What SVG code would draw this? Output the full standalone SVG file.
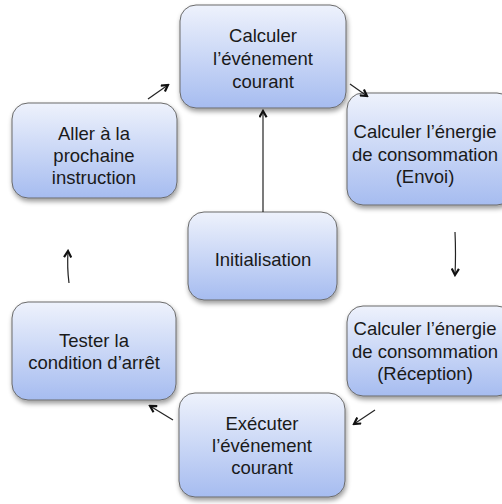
<svg xmlns="http://www.w3.org/2000/svg" width="502" height="504" viewBox="0 0 502 504">
<defs>
<linearGradient id="g" x1="0" y1="0" x2="0" y2="1">
<stop offset="0" stop-color="#eef2fc"/>
<stop offset="1" stop-color="#a6bcf0"/>
</linearGradient>
<filter id="sh" x="-10%" y="-10%" width="130%" height="130%">
<feGaussianBlur in="SourceAlpha" stdDeviation="2.5"/>
<feOffset dx="1" dy="3" result="o"/>
<feComponentTransfer><feFuncA type="linear" slope="0.4"/></feComponentTransfer>
<feMerge><feMergeNode/><feMergeNode in="SourceGraphic"/></feMerge>
</filter>
<marker id="ah" viewBox="0 0 10 10" refX="8" refY="5" markerWidth="9" markerHeight="9" orient="auto" markerUnits="userSpaceOnUse">
<path d="M1,1 L8,5 L1,9" fill="none" stroke="#111" stroke-width="2.4"/>
</marker>
</defs>
<style>
.n{fill:url(#g);stroke:#6a6a6a;stroke-width:1;filter:url(#sh)}
.t{font-family:"Liberation Sans",Arial,sans-serif;font-size:18.5px;fill:#1a1a1a;text-anchor:middle}
.c{fill:none;stroke:#222;stroke-width:1.2;marker-end:url(#ah)}
</style>
<rect width="502" height="504" fill="#fff"/>
<g id="n1"><rect class="n" x="180" y="5" width="166" height="103" rx="16"/>
<text class="t" x="263" y="42">Calculer</text><text class="t" x="263" y="65">l’événement</text><text class="t" x="263" y="88">courant</text></g>
<g id="n2"><rect class="n" x="347" y="93" width="166" height="112" rx="16"/>
<text class="t" x="425" y="138">Calculer l’énergie</text><text class="t" x="425" y="161">de consommation</text><text class="t" x="425" y="183">(Envoi)</text></g>
<g id="n3"><rect class="n" x="347" y="306" width="166" height="90" rx="16"/>
<text class="t" x="425" y="335">Calculer l’énergie</text><text class="t" x="425" y="358">de consommation</text><text class="t" x="425" y="380">(Réception)</text></g>
<g id="n4"><rect class="n" x="179" y="393" width="166" height="104" rx="16"/>
<text class="t" x="262" y="430">Exécuter</text><text class="t" x="262" y="452">l’événement</text><text class="t" x="262" y="474">courant</text></g>
<g id="n5"><rect class="n" x="12" y="302" width="164" height="98" rx="16"/>
<text class="t" x="94" y="347">Tester la</text><text class="t" x="94" y="369">condition d’arrêt</text></g>
<g id="n6"><rect class="n" x="12" y="103" width="165" height="95" rx="16"/>
<text class="t" x="94" y="140">Aller à la</text><text class="t" x="94" y="162">prochaine</text><text class="t" x="94" y="184">instruction</text></g>
<g id="n7"><rect class="n" x="188" y="212" width="149" height="88" rx="16"/>
<text class="t" x="263" y="266">Initialisation</text></g>
<g id="connectors">
<path class="c" d="M263,212 L263,111"/>
<path class="c" d="M148,99 L168,85"/>
<path class="c" d="M350,84 L367,96"/>
<path class="c" d="M455,232 Q456,255 455,275"/>
<path class="c" d="M375,410 L354,424"/>
<path class="c" d="M173,420 L150,406"/>
<path class="c" d="M69,283 Q67,268 68,251"/>
</g>
</svg>
